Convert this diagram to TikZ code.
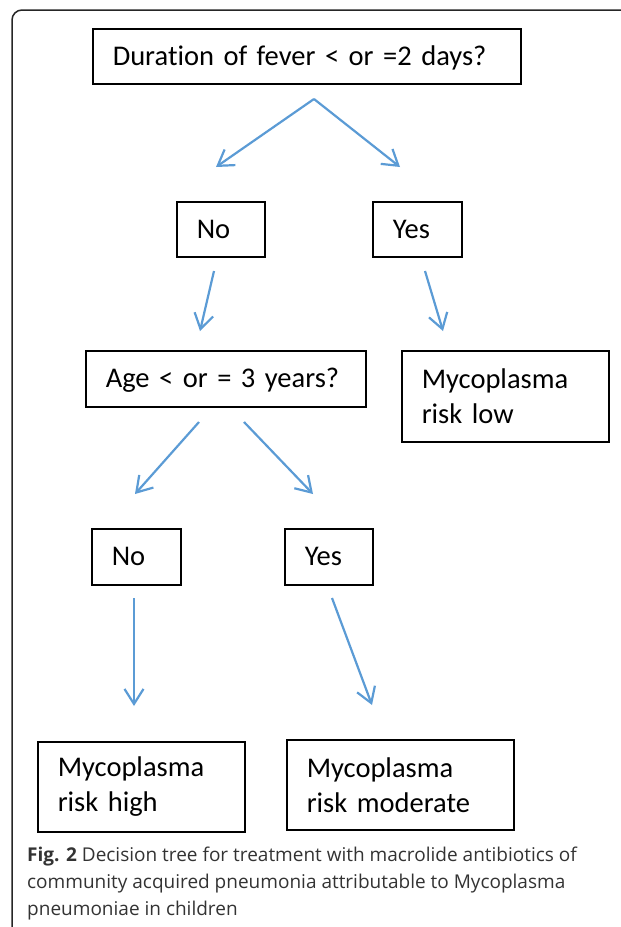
\documentclass[tikz,border=0pt]{standalone}
\usepackage{fontspec}
\usetikzlibrary{arrows.meta}
\newfontfamily\boxfont{Carlito}[Ligatures=NoCommon]
\newfontfamily\capfont{Open Sans}
\definecolor{arrowblue}{HTML}{5B9BD5}
\definecolor{captext}{HTML}{333333}
% box text: Carlito with slightly tighter word spacing
\newcommand{\boxtext}{\boxfont\fontsize{28.5}{35}\selectfont\spaceskip=4.6pt plus 1pt minus 1pt\relax}

\begin{document}
\begin{tikzpicture}[x=1pt, y=-1pt,
  box/.style={draw=black, line width=1.5pt, anchor=north west,
    inner xsep=20pt, inner ysep=0pt, align=left, font=\boxtext},
  onerow/.style={text height=22pt, text depth=4pt},
  flow/.style={draw=arrowblue, line width=2.2pt,
    -{Straight Barb[length=15pt, width=19pt, line width=2.2pt]}},
  ]
  % page area and outer frame with a rounded corner at top left
  \useasboundingbox (0,0) rectangle (621,927);
  \draw[line width=1.5pt, color=black!85, rounded corners=10pt] (12,927) -- (12,10) -- (621,10);

  % decision boxes
  \node[box, onerow, text width=388pt, minimum height=55pt] (q1) at (92,28) {Duration of fever < or =2 days?};
  \node[box, onerow, text width=48pt, minimum height=55pt] (no1) at (176,201) {No};
  \node[box, onerow, text width=49pt, minimum height=55pt] (yes1) at (372,201) {Yes};
  \node[box, onerow, text width=240pt, minimum height=56pt] (q2) at (85,350) {Age < or = 3 years?};
  \node[box, text width=167pt, minimum height=91pt] (low) at (401,350) {Mycoplasma\\risk low};
  \node[box, onerow, text width=49pt, minimum height=56pt] (no2) at (91,528) {No};
  \node[box, onerow, text width=48pt, minimum height=56pt] (yes2) at (284,528) {Yes};
  \node[box, text width=167pt, minimum height=90pt] (high) at (37,741) {Mycoplasma\\risk high};
  \node[box, text width=187pt, minimum height=90pt] (moderate) at (286,739) {Mycoplasma\\risk moderate};

  % arrow end points
  \coordinate (top) at (314,99);
  \coordinate (toNo1) at (216,167);
  \coordinate (toYes1) at (400,167);
  \coordinate (fromNo1) at (214,271);
  \coordinate (toQ2) at (200,331);
  \coordinate (fromYes1) at (425,271);
  \coordinate (toLow) at (443,331);
  \coordinate (fromQ2a) at (199,422);
  \coordinate (toNo2) at (135,494);
  \coordinate (fromQ2b) at (244,422);
  \coordinate (toYes2) at (313,494);
  \coordinate (fromNo2) at (134,598);
  \coordinate (toHigh) at (134,706);
  \coordinate (fromYes2) at (332,598);
  \coordinate (toModerate) at (372,705);

  % connectors
  \draw[flow] (top) -- (toNo1);
  \draw[flow] (top) -- (toYes1);
  \draw[flow] (fromNo1) -- (toQ2);
  \draw[flow] (fromYes1) -- (toLow);
  \draw[flow] (fromQ2a) -- (toNo2);
  \draw[flow] (fromQ2b) -- (toYes2);
  \draw[flow] (fromNo2) -- (toHigh);
  \draw[flow] (fromYes2) -- (toModerate);

  % caption, anchored at the baseline of its last line
  \node[anchor=base west, inner sep=0pt, align=left, text=captext,
        font=\capfont\fontsize{19}{27}\selectfont] (caption) at (27,915)
    {\textbf{Fig. 2} Decision tree for treatment with macrolide antibiotics of\\
     community acquired pneumonia attributable to Mycoplasma\\
     pneumoniae in children};
\end{tikzpicture}
\end{document}
